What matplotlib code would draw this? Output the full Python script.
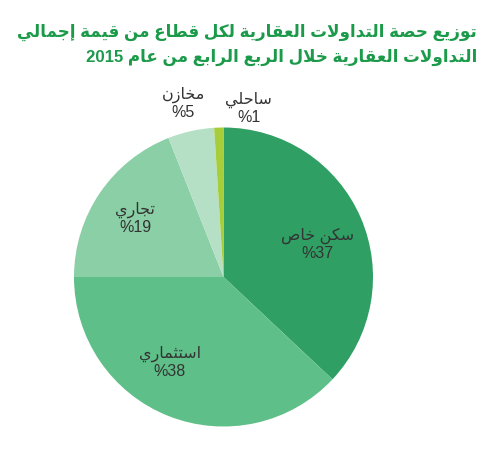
import matplotlib
matplotlib.use("Agg")
import matplotlib.pyplot as plt

# ── Datos ─────────────────────────────────────────────────────────────────────
categories = ["سكن خاص", "استثماري", "تجاري", "مخازن", "ساحلي"]
shares = [37, 38, 19, 5, 1]
share_labels = ["%37", "%38", "%19", "%5", "%1"]
title_lines = [
    "توزيع حصة التداولات العقارية لكل قطاع من قيمة إجمالي",
    "التداولات العقارية خلال الربع الرابع من عام 2015",
]

COLORS = ["#2f9f64", "#5ebf88", "#8acfa5", "#b6e0c6", "#a8cd3b"]
TITLE_COLOR = "#1b9a4a"
TEXT_COLOR = "#333333"
# posiciones de etiquetas (coordenadas del eje, radio = 1)
LABEL_POS = [(0.63, 0.22), (-0.36, -0.57), (-0.59, 0.39), (-0.27, 1.16), (0.17, 1.13)]

# ── Conformado árabe (matplotlib no hace shaping ni bidi) ─────────────────────
FORMS = {
    "ا": (0xFE8D, False), "أ": (0xFE83, False), "إ": (0xFE87, False), "آ": (0xFE81, False),
    "ب": (0xFE8F, True), "ة": (0xFE93, False), "ت": (0xFE95, True), "ث": (0xFE99, True),
    "ج": (0xFE9D, True), "ح": (0xFEA1, True), "خ": (0xFEA5, True), "د": (0xFEA9, False),
    "ذ": (0xFEAB, False), "ر": (0xFEAD, False), "ز": (0xFEAF, False), "س": (0xFEB1, True),
    "ش": (0xFEB5, True), "ص": (0xFEB9, True), "ض": (0xFEBD, True), "ط": (0xFEC1, True),
    "ظ": (0xFEC5, True), "ع": (0xFEC9, True), "غ": (0xFECD, True), "ف": (0xFED1, True),
    "ق": (0xFED5, True), "ك": (0xFED9, True), "ل": (0xFEDD, True), "م": (0xFEE1, True),
    "ن": (0xFEE5, True), "ه": (0xFEE9, True), "و": (0xFEED, False), "ى": (0xFEEF, False),
    "ي": (0xFEF1, True),
}
LAM_ALEF = {"ا": 0xFEFB, "أ": 0xFEF7, "إ": 0xFEF9, "آ": 0xFEF5}


def shape_word(word):
    if not any(c in FORMS for c in word):
        return word
    units = []
    i = 0
    while i < len(word):
        c = word[i]
        if c == "ل" and i + 1 < len(word) and word[i + 1] in LAM_ALEF:
            units.append((LAM_ALEF[word[i + 1]], False))
            i += 2
        else:
            units.append(FORMS[c])
            i += 1
    out = []
    for k, (base, dual) in enumerate(units):
        prev_joins = k > 0 and units[k - 1][1]
        has_next = k + 1 < len(units)
        if dual:
            off = 3 if (prev_joins and has_next) else 1 if prev_joins else 2 if has_next else 0
        else:
            off = 1 if prev_joins else 0
        out.append(chr(base + off))
    return "".join(out)[::-1]


def visual(line):
    return " ".join(shape_word(w) for w in line.split(" ")[::-1])


# ── Figura ────────────────────────────────────────────────────────────────────
W, H = 482, 450
fig = plt.figure(figsize=(W / 100, H / 100), dpi=100)
fig.patch.set_facecolor("white")

cx, cy, r = 223.5, 277, 149.5
ax = fig.add_axes([(cx - r) / W, (H - cy - r) / H, 2 * r / W, 2 * r / H])
ax.pie(shares, colors=COLORS, startangle=90, counterclock=False, radius=1,
       wedgeprops=dict(linewidth=0))
ax.set_xlim(-1, 1)
ax.set_ylim(-1, 1)
ax.set_aspect("equal")
ax.axis("off")

fam = ["Liberation Sans", "DejaVu Sans"]
for name, pct, (x, y) in zip(categories, share_labels, LABEL_POS):
    ax.text(x, y, visual(name) + "\n" + pct, ha="center", va="center",
            multialignment="center", fontsize=11.5, color=TEXT_COLOR,
            family=fam, linespacing=1.15, clip_on=False)

# título: ajustar tamaño para que la primera línea ocupe ~462 px
titles = []
for i, line in enumerate(title_lines):
    t = fig.text(477 / W, 1 - (32 + 25 * i) / H, visual(line), ha="right", va="center",
                 fontsize=14, fontweight="bold", color=TITLE_COLOR, family=fam)
    titles.append(t)
renderer = fig.canvas.get_renderer()
w0 = titles[0].get_window_extent(renderer).width
for t in titles:
    t.set_fontsize(14 * 462 / w0)

fig.savefig("out.png", dpi=100)
